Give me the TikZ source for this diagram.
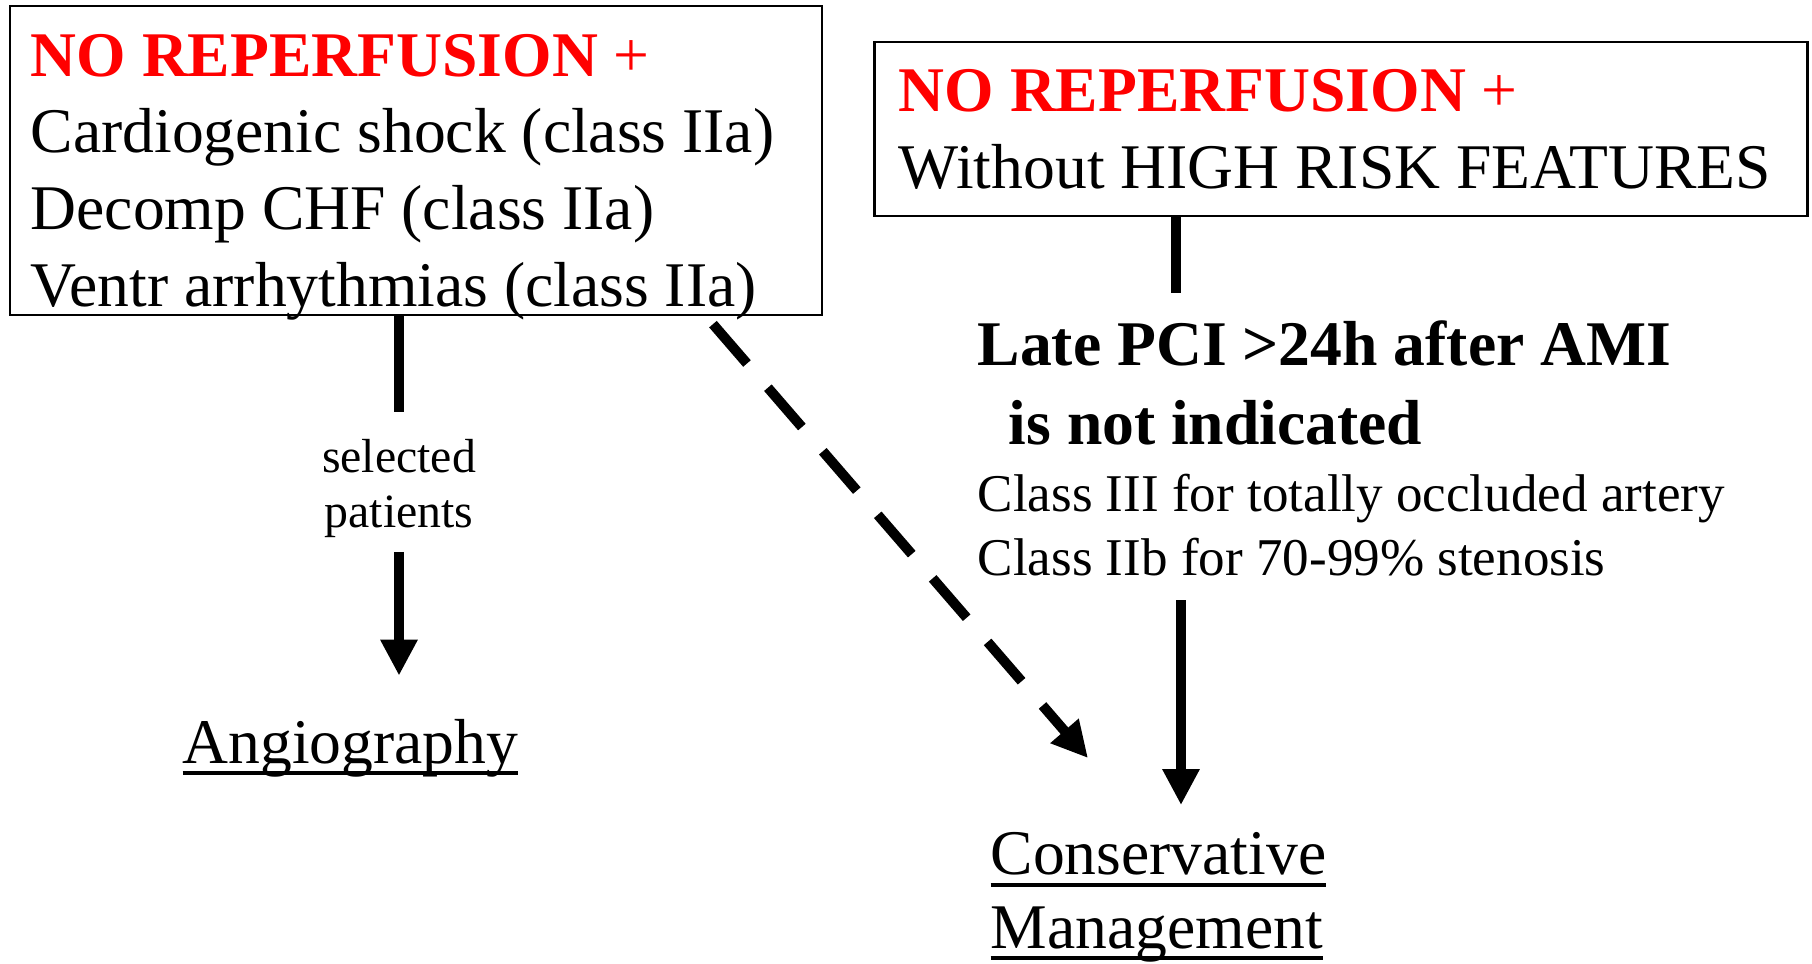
\documentclass[tikz,border=0pt]{standalone}
\usepackage{fontspec}
\setmainfont{Liberation Serif}
\usetikzlibrary{arrows.meta,calc}

\newlength{\ulwd}
\newcommand{\ulword}[1]{\settowidth{\ulwd}{#1}\rlap{\rule[-1.2mm]{\ulwd}{0.4mm}}#1}

\begin{document}
\begin{tikzpicture}[
    box/.style={draw, line width=0.7pt, inner sep=0pt},
    txt/.style={inner sep=0pt, align=left, anchor=base west},
    flowline/.style={line width=1mm},
    flowarrow/.style={line width=1mm, -{Triangle[width=3.5mm,length=3.6mm]}},
]

\useasboundingbox (0,0) rectangle (18.12,9.63);

% Boxes
\node[box, anchor=north west, minimum width=8.12cm, minimum height=3.09cm] (box1) at (0.085,9.583) {};
\node[box, anchor=north west, minimum width=9.33cm, minimum height=1.74cm] (box2) at (8.734,9.223) {};

% Box texts (base = last line)
\node[txt, font=\fontsize{18.1}{21.8}\selectfont] (sit1) at (0.30,6.57)
    {\textcolor{red}{\textbf{NO REPERFUSION} +}\\Cardiogenic shock (class IIa)\\Decomp CHF (class IIa)\\Ventr arrhythmias (class IIa)};
\node[txt, font=\fontsize{18.1}{21.8}\selectfont] (sit2) at (8.98,7.747)
    {\textcolor{red}{\textbf{NO REPERFUSION} +}\\Without HIGH RISK FEATURES};

% Late PCI
\node[txt, font=\bfseries\fontsize{18.1}{22.2}\selectfont] (late) at (9.77,5.19)
    {Late PCI >24h after AMI\\\hspace*{3.1mm}is not indicated};
\node[txt, font=\fontsize{15.1}{18.2}\selectfont] (notes) at (9.77,3.88)
    {Class III for totally occluded artery\\Class IIb for 70-99\% stenosis};

% Outcomes
\node[inner sep=0pt, align=center, anchor=base, font=\fontsize{13.6}{15.6}\selectfont] (sel) at (3.99,4.36) {selected\\patients};
\node[txt, font=\fontsize{18.1}{21.8}\selectfont] (angio) at (1.82,2.00) {\ulword{Angiography}};
\node[txt, font=\fontsize{18.1}{20.8}\selectfont] (cons) at (9.90,0.15) {\ulword{Conservative}\\\ulword{Management}};

% Connectors
\draw[flowline, shorten >=2.6mm] (sel.north |- box1.south) -- (sel.north);
\draw[flowarrow, shorten <=1.4mm, shorten >=4.25mm] (sel.south) -- (sel.south |- angio.north);
\draw[flowarrow, dash pattern=on 5.2mm off 3.2mm] ($(box1.south east)+(-1.1,-0.08)$) -- ($(cons.north west)+(0.98,0.74)$);

\coordinate (b2foot) at ($(box2.south west)+(3.03,0)$);
\draw[flowline, shorten >=2.7mm] (b2foot) -- (b2foot |- late.north);

\coordinate (nfoot) at ($(notes.south west)+(2.04,0)$);
\draw[flowarrow, shorten <=2.4mm, shorten >=2.7mm] (nfoot) -- (nfoot |- cons.north);
\end{tikzpicture}
\end{document}
